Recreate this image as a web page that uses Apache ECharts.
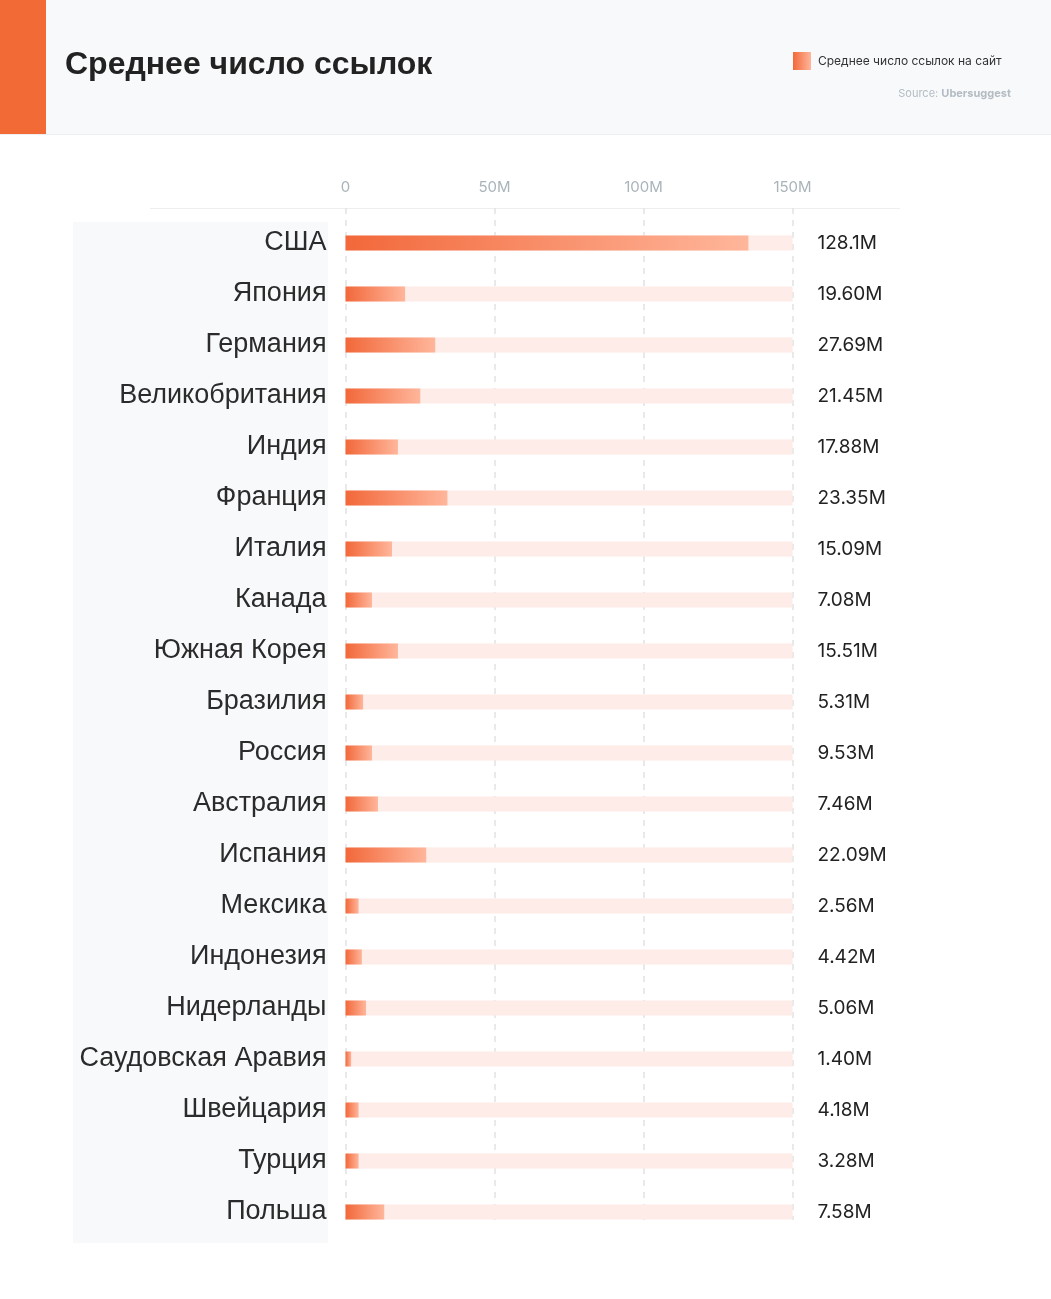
<!DOCTYPE html>
<html><head><meta charset="utf-8">
<script src="https://cdn.jsdelivr.net/npm/echarts@6/dist/echarts.min.js"></script>
<style>html,body{margin:0;padding:0;background:#fff}#c{width:1051px;height:1299px}</style>
</head><body><div id="c"></div>
<script>
const categories = ['США','Япония','Германия','Великобритания','Индия','Франция','Италия','Канада','Южная Корея','Бразилия','Россия','Австралия','Испания','Мексика','Индонезия','Нидерланды','Саудовская Аравия','Швейцария','Турция','Польша'];
const barValues = [135.2, 20.0, 30.1, 25.1, 17.6, 34.2, 15.6, 8.9, 17.6, 5.9, 8.9, 10.9, 27.1, 4.4, 5.5, 6.9, 1.9, 4.4, 4.4, 13.0];
const valueLabels = ['128.1M','19.60M','27.69M','21.45M','17.88M','23.35M','15.09M','7.08M','15.51M','5.31M','9.53M','7.46M','22.09M','2.56M','4.42M','5.06M','1.40M','4.18M','3.28M','7.58M'];
const tickLabels = {0:'0',50:'50M',100:'100M',150:'150M'};
const seriesName = 'Среднее число ссылок на сайт';

const chart = echarts.init(document.getElementById('c'), null, {renderer:'canvas'});
const grad = new echarts.graphic.LinearGradient(0,0,1,0,[{offset:0,color:'#f2683a'},{offset:1,color:'#ffb69b'}]);
const GL = 345.5, GR = 1051-792.5;
chart.setOption({
  backgroundColor:'#ffffff',
  animation:false,
  graphic:[
    {type:'rect',shape:{x:0,y:0,width:1051,height:134},style:{fill:'#f8f9fb'},z:-10},
    {type:'line',shape:{x1:0,y1:134.5,x2:1051,y2:134.5},style:{stroke:'#eceef1',lineWidth:1},z:-9},
    {type:'rect',shape:{x:0,y:0,width:46,height:134},style:{fill:'#f26a36'},z:-8},
    {type:'text',left:65,top:49,style:{text:'Среднее число ссылок',font:'bold 32px "Liberation Sans", Arial, sans-serif',fill:'#222222'}},
    {type:'text',right:40,top:88,style:{text:'{a|Source: }{b|Ubersuggest}',rich:{a:{fontSize:11,fontFamily:'Inter',fill:'#b3bcc2'},b:{fontSize:11,fontFamily:'Inter',fontWeight:'bold',fill:'#b3bcc2'}}}},
    {type:'line',shape:{x1:150,y1:208.5,x2:900,y2:208.5},style:{stroke:'#eeeeee',lineWidth:1},z:-5},
    {type:'rect',shape:{x:73,y:222,width:255,height:1021},style:{fill:'#f8f9fb'},z:-10}
  ],
  legend:{
    left:788, top:47, itemWidth:18, itemHeight:18, icon:'rect',
    textStyle:{fontSize:12, fontFamily:'Inter', color:'#333', padding:[2,0,0,2]},
    data:[seriesName]
  },
  grid:[
    {left:GL, right:GR, top:217.5, height:1020, containLabel:false},
    {left:GL, right:GR, top:208, height:1012, containLabel:false}
  ],
  xAxis:[
    {gridIndex:0, type:'value', min:0, max:150, interval:50, show:false},
    {gridIndex:1, type:'value', position:'top', min:0, max:150, interval:50,
     axisLine:{show:false}, axisTick:{show:false},
     axisLabel:{margin:13, color:'#a9b3b9', fontSize:15, fontFamily:'Inter', formatter:v=>tickLabels[v]},
     splitLine:{show:true, lineStyle:{type:[6,6], color:'#e2e2e2', width:1.5}}}
  ],
  yAxis:[
    {gridIndex:0, type:'category', data:categories, inverse:true,
     axisLine:{show:false}, axisTick:{show:false}, splitLine:{show:false},
     axisLabel:{margin:19, fontSize:27, fontFamily:'"Liberation Sans", Arial', color:'#2b2b2b', padding:[6,0,0,0]}},
    {gridIndex:0, type:'category', data:valueLabels, inverse:true, position:'right',
     axisLine:{show:false}, axisTick:{show:false}, splitLine:{show:false},
     axisLabel:{margin:25, fontSize:19, fontFamily:'Inter', color:'#222', align:'left'}},
    {gridIndex:1, type:'value', show:false}
  ],
  series:[
    {name:seriesName, type:'bar', xAxisIndex:0, yAxisIndex:0, data:barValues, barWidth:15,
     showBackground:true, backgroundStyle:{color:'#fdece7'},
     itemStyle:{color:grad}}
  ]
});
</script></body></html>
